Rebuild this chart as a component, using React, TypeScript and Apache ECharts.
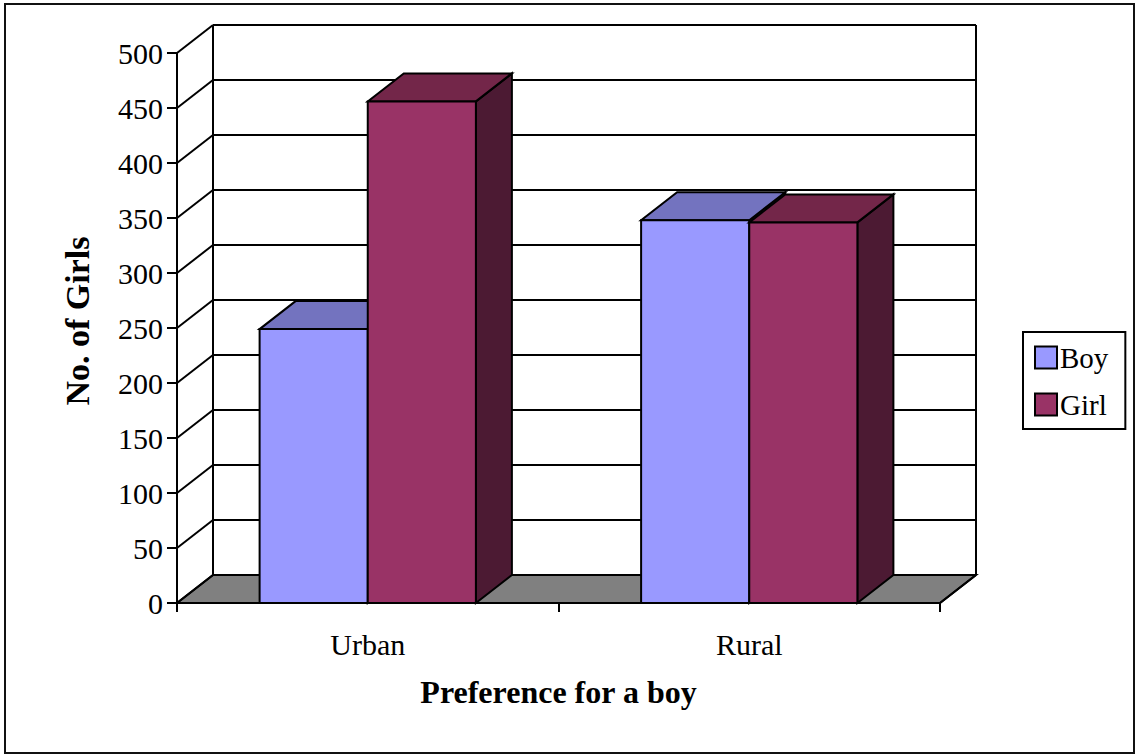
import React, { useEffect, useRef } from "react";
import * as echarts from "echarts";

const CATEGORIES = ["Urban", "Rural"];
const BOY = [249, 348];
const GIRL = [456, 346];
const Y_TICKS = [0, 50, 100, 150, 200, 250, 300, 350, 400, 450, 500];
const SERIES_NAMES = ["Boy", "Girl"];

const FONT = "'Liberation Serif', 'Times New Roman', serif";
const DX = 36;
const DY = -28;
const BAR_FRAC = 108 / 381;

const COLORS = {
  Boy: { front: "#9999FF", top: "#7373BF", side: "#4D4D80" },
  Girl: { front: "#993366", top: "#732649", side: "#4C1A33" },
};

function barRender(seriesIdx: number, colors: { front: string; top: string; side: string }) {
  return (params: any, api: any) => {
    const cat = api.value(0);
    const val = api.value(1);
    const base = api.coord([cat, 0]);
    const top = api.coord([cat, val]);
    const w = api.size([1, 0])[0] * BAR_FRAC;
    const x0 = base[0] + (seriesIdx === 0 ? -w : 0);
    const x1 = x0 + w;
    const yb = base[1];
    const yt = top[1];
    const stroke = { stroke: "#000", lineWidth: 2, lineJoin: "miter" };
    return {
      type: "group",
      children: [
        {
          type: "polygon",
          shape: { points: [[x1, yt], [x1 + DX, yt + DY], [x1 + DX, yb + DY], [x1, yb]] },
          style: { fill: colors.side, ...stroke },
        },
        {
          type: "polygon",
          shape: { points: [[x0, yt], [x1, yt], [x1 + DX, yt + DY], [x0 + DX, yt + DY]] },
          style: { fill: colors.top, ...stroke },
        },
        {
          type: "polygon",
          shape: { points: [[x0, yt], [x1, yt], [x1, yb], [x0, yb]] },
          style: { fill: colors.front, ...stroke },
        },
      ],
    };
  };
}

function wallRender(params: any, api: any) {
  const cs = params.coordSys;
  const xl = cs.x;
  const xr = cs.x + cs.width;
  const yb = api.coord([0, Y_TICKS[0]])[1];
  const yt = api.coord([0, Y_TICKS[Y_TICKS.length - 1]])[1];
  const ls = { stroke: "#000", lineWidth: 2 };
  const children: any[] = [
    {
      type: "polygon",
      shape: { points: [[xl, yb], [xr, yb], [xr + DX, yb + DY], [xl + DX, yb + DY]] },
      style: { fill: "#808080", stroke: "#000", lineWidth: 2 },
    },
  ];
  Y_TICKS.forEach((v) => {
    const y = api.coord([0, v])[1];
    children.push({
      type: "line",
      shape: { x1: xl, y1: y, x2: xl + DX, y2: y + DY },
      style: ls,
    });
    children.push({
      type: "line",
      shape: { x1: xl + DX, y1: y + DY, x2: xr + DX, y2: y + DY },
      style: ls,
    });
  });
  children.push({
    type: "line",
    shape: { x1: xl + DX, y1: yt + DY, x2: xl + DX, y2: yb + DY },
    style: ls,
  });
  children.push({
    type: "line",
    shape: { x1: xr + DX, y1: yt + DY, x2: xr + DX, y2: yb + DY },
    style: ls,
  });
  children.push({
    type: "line",
    shape: { x1: xr, y1: yb, x2: xr + DX, y2: yb + DY },
    style: ls,
  });
  return { type: "group", children };
}

export default function App() {
  const ref = useRef<HTMLDivElement>(null);
  useEffect(() => {
    document.body.style.margin = "0";
    if (!ref.current) return;
    const chart = echarts.init(ref.current, null, { renderer: "svg" });
    const option: any = {
      animation: false,
      backgroundColor: "#fff",
      textStyle: { fontFamily: FONT, color: "#000" },
      grid: { left: 177, right: 196, top: 53, bottom: 152, containLabel: false },
      legend: {
        orient: "vertical",
        left: 1023,
        top: 332,
        padding: [11, 17, 10, 11],
        itemGap: 18,
        itemWidth: 22,
        itemHeight: 22,
        borderColor: "#000",
        borderWidth: 2,
        backgroundColor: "#fff",
        selectedMode: false,
        textStyle: { fontFamily: FONT, fontSize: 29, color: "#000", padding: [0, 0, 0, -2] },
        data: SERIES_NAMES.map((n) => ({
          name: n,
          icon: "rect",
          itemStyle: { color: (COLORS as any)[n].front, borderColor: "#000", borderWidth: 2 },
        })),
      },
      xAxis: {
        type: "category",
        data: CATEGORIES,
        boundaryGap: true,
        name: "Preference for a boy",
        nameLocation: "middle",
        nameGap: 73,
        nameTextStyle: { fontFamily: FONT, fontSize: 32, fontWeight: "bold", color: "#000" },
        axisLine: { show: true, lineStyle: { color: "#000", width: 2 } },
        axisTick: { show: true, length: 9, lineStyle: { color: "#000", width: 2 } },
        axisLabel: { fontFamily: FONT, fontSize: 30, color: "#000", margin: 26 },
        splitLine: { show: false },
      },
      yAxis: {
        type: "value",
        min: Y_TICKS[0],
        max: Y_TICKS[Y_TICKS.length - 1],
        interval: Y_TICKS[1] - Y_TICKS[0],
        name: "No. of Girls",
        nameLocation: "middle",
        nameGap: 83,
        nameRotate: 90,
        nameTextStyle: {
          fontFamily: FONT,
          fontSize: 34,
          fontWeight: "bold",
          color: "#000",
          padding: [0, 0, 0, 14],
        },
        axisLine: { show: true, lineStyle: { color: "#000", width: 2 } },
        axisTick: { show: true, length: 10, lineStyle: { color: "#000", width: 2 } },
        axisLabel: { fontFamily: FONT, fontSize: 30, color: "#000", margin: 14 },
        splitLine: { show: false },
      },
      graphic: [
        {
          type: "rect",
          shape: { x: 5, y: 4, width: 1129, height: 749 },
          style: { fill: "none", stroke: "#111", lineWidth: 2 },
          z: 100,
        },
      ],
      series: [
        {
          type: "custom",
          name: "wall",
          renderItem: wallRender,
          data: [[0, 0]],
          z: 1,
          silent: true,
        },
        {
          type: "custom",
          name: "Boy",
          renderItem: barRender(0, COLORS.Boy),
          itemStyle: { color: COLORS.Boy.front },
          data: BOY.map((v, i) => [i, v]),
          z: 3,
        },
        {
          type: "custom",
          name: "Girl",
          renderItem: barRender(1, COLORS.Girl),
          itemStyle: { color: COLORS.Girl.front },
          data: GIRL.map((v, i) => [i, v]),
          z: 4,
        },
      ],
    };
    chart.setOption(option);
    return () => chart.dispose();
  }, []);
  return <div ref={ref} style={{ width: 1136, height: 755 }} />;
}
